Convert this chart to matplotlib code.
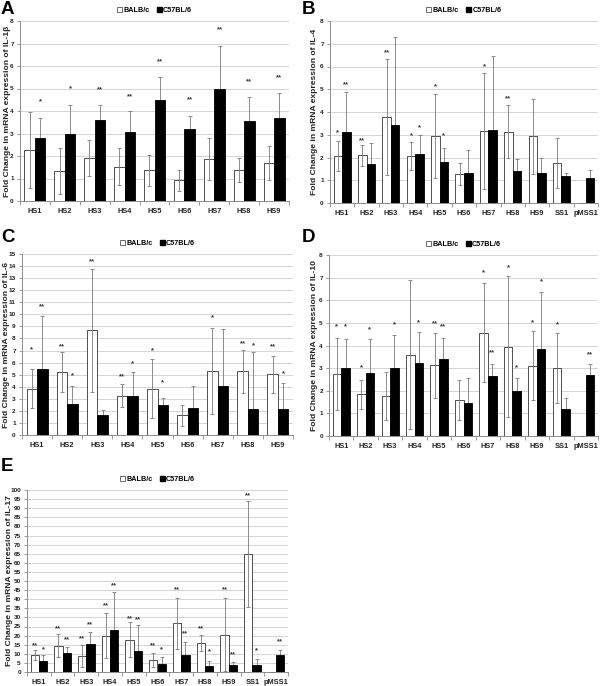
import matplotlib
matplotlib.use("Agg")
import matplotlib.pyplot as plt
from matplotlib.patches import Patch
import numpy as np

plt.rcParams['font.family'] = ['Liberation Sans', 'DejaVu Sans']
plt.rcParams['font.weight'] = 'bold'

cats9 = ["HS1", "HS2", "HS3", "HS4", "HS5", "HS6", "HS7", "HS8", "HS9"]
cats11 = cats9 + ["SS1", "pMSS1"]

# Panel A: IL-1β
a_balb = [2.27, 1.33, 1.92, 1.53, 1.37, 0.93, 1.87, 1.38, 1.68]
a_balb_err = [1.68, 1.03, 0.80, 0.83, 0.69, 0.47, 0.93, 0.52, 0.75]
a_c57 = [2.78, 3.00, 3.60, 3.08, 4.50, 3.20, 5.00, 3.55, 3.68]
a_c57_err = [0.90, 1.27, 0.67, 0.92, 1.00, 0.58, 1.88, 1.07, 1.12]
a_balb_sig = ["", "", "", "", "", "", "", "", ""]
a_balb_sig_y = [0] * 9
a_c57_sig = ["*", "*", "**", "**", "**", "**", "**", "**", "**"]
a_c57_sig_y = [4.4, 5.0, 4.95, 4.65, 6.2, 4.5, 7.6, 5.3, 5.5]

# Panel B: IL-4
b_balb = [2.05, 2.10, 3.77, 2.07, 2.95, 1.28, 3.15, 3.13, 2.93, 1.75, 0.0]
b_balb_err = [0.66, 0.46, 2.55, 0.60, 1.83, 0.47, 2.55, 1.17, 1.64, 1.10, 0.0]
b_c57 = [3.10, 1.72, 3.43, 2.15, 1.80, 1.33, 3.23, 1.42, 1.30, 1.17, 1.12]
b_c57_err = [1.80, 0.91, 3.85, 0.85, 0.62, 0.99, 3.22, 0.51, 0.67, 0.13, 0.31]
b_balb_sig = ["*", "**", "**", "*", "*", "", "*", "**", "", "", ""]
b_balb_sig_y = [3.1, 2.75, 6.6, 2.95, 5.1, 0, 6.0, 4.6, 0, 0, 0]
b_c57_sig = ["**", "", "", "*", "*", "", "", "", "", "", ""]
b_c57_sig_y = [5.2, 0, 0, 3.3, 2.95, 0, 0, 0, 0, 0, 0]

# Panel C: IL-6
c_balb = [3.85, 5.20, 8.68, 3.27, 3.85, 1.62, 5.33, 5.27, 5.02]
c_balb_err = [1.63, 1.64, 5.10, 0.92, 2.43, 0.88, 3.55, 1.75, 1.55]
c_c57 = [5.45, 2.60, 1.62, 3.27, 2.45, 2.20, 4.10, 2.15, 2.15]
c_c57_err = [4.40, 1.43, 0.46, 1.93, 0.65, 1.90, 4.67, 4.70, 2.12]
c_balb_sig = ["*", "**", "**", "**", "*", "", "*", "**", "**"]
c_balb_sig_y = [7.1, 7.3, 14.4, 4.8, 7.0, 0, 9.7, 7.6, 7.3]
c_c57_sig = ["**", "*", "", "*", "*", "", "", "*", "*"]
c_c57_sig_y = [10.6, 4.9, 0, 5.9, 4.3, 0, 0, 7.4, 5.1]

# Panel D: IL-10
d_balb = [2.73, 1.85, 1.77, 3.60, 3.13, 1.58, 4.57, 3.95, 3.10, 3.00, 0.0]
d_balb_err = [1.60, 0.64, 1.05, 3.30, 1.44, 0.88, 2.20, 3.12, 1.52, 1.54, 0.0]
d_c57 = [3.00, 2.80, 3.00, 3.22, 3.42, 1.47, 2.67, 2.00, 3.83, 1.18, 2.70]
d_c57_err = [1.27, 1.47, 1.45, 1.38, 0.93, 1.11, 0.53, 0.55, 2.55, 0.49, 0.48]
d_balb_sig = ["*", "*", "", "", "**", "", "*", "*", "*", "*", ""]
d_balb_sig_y = [4.85, 3.0, 0, 0, 4.95, 0, 7.2, 7.45, 5.0, 4.9, 0]
d_c57_sig = ["*", "*", "*", "*", "**", "", "**", "*", "*", "", "**"]
d_c57_sig_y = [4.85, 4.7, 4.9, 5.0, 4.85, 0, 3.7, 3.0, 6.8, 0, 3.6]

# Panel E: IL-17
e_balb = [9.5, 14.5, 8.8, 20.0, 17.8, 6.5, 26.7, 15.8, 20.6, 64.7, 0.0]
e_balb_err = [2.8, 6.3, 6.0, 12.3, 9.7, 3.9, 14.0, 4.3, 20.2, 29.2, 0.0]
e_c57 = [6.2, 10.2, 15.5, 22.9, 11.3, 4.6, 9.2, 3.5, 4.0, 3.9, 9.6]
e_c57_err = [3.3, 3.7, 6.5, 21.0, 14.3, 3.7, 7.3, 2.7, 1.5, 3.3, 2.7]
e_balb_sig = ["**", "**", "**", "**", "**", "**", "**", "**", "**", "**", ""]
e_balb_sig_y = [14.5, 23.5, 18.5, 36.5, 29.5, 14.5, 45.0, 24.0, 45.0, 97.0, 0]
e_c57_sig = ["*", "**", "**", "**", "**", "*", "**", "*", "**", "*", "**"]
e_c57_sig_y = [12.0, 17.5, 26.0, 47.5, 28.5, 12.0, 21.0, 11.0, 9.5, 11.5, 16.5]

W, H = 600, 686
fig = plt.figure(figsize=(W / 100, H / 100), dpi=100)

GRID = "#d4d4d4"
SPINE = "#8c8c8c"
ERRC = "#7a7a7a"
TXT = "#222222"


def make_axes(l, t, r, b):
    return fig.add_axes([l / W, 1 - b / H, (r - l) / W, (b - t) / H])


def panel(box, letter, letter_xy, cats, balb, balb_err, c57, c57_err,
          bsig, bsig_y, csig, csig_y, ymax, ystep, ylabel, label_x):
    ax = make_axes(*box)
    n = len(cats)
    x = np.arange(n)
    bw = 0.35
    ax.bar(x - bw / 2, balb, bw, color="white", edgecolor="#333333",
           linewidth=0.6, zorder=2)
    ax.errorbar(x - bw / 2, balb, yerr=balb_err, fmt="none", ecolor=ERRC,
                elinewidth=0.6, capsize=1.6, capthick=0.6, zorder=3)
    ax.errorbar(x + bw / 2, c57, yerr=c57_err, fmt="none", ecolor=ERRC,
                elinewidth=0.6, capsize=1.6, capthick=0.6, zorder=3)
    ax.bar(x + bw / 2, c57, bw, color="black", edgecolor="black",
           linewidth=0.6, zorder=4)
    for i in range(n):
        if bsig[i]:
            ax.text(x[i] - bw / 2, bsig_y[i], bsig[i], ha="center", va="center",
                    fontsize=5.5, color="#333333", fontweight="bold", zorder=5)
        if csig[i]:
            ax.text(x[i] + bw / 2, csig_y[i], csig[i], ha="center", va="center",
                    fontsize=5.5, color="#333333", fontweight="bold", zorder=5)
    ax.set_xlim(-0.5, n - 0.5)
    ax.set_ylim(0, ymax)
    ticks = np.arange(0, ymax + ystep / 2, ystep)
    ax.set_yticks(ticks)
    ax.set_yticklabels([f"{v:g}" for v in ticks],
                       fontsize=4.6, fontweight="bold", color=TXT)
    ax.yaxis.grid(True, color=GRID, linewidth=0.7, zorder=0)
    ax.set_axisbelow(True)
    ax.set_xticks(x)
    ax.set_xticklabels(cats, fontsize=5.3, fontweight="bold", color=TXT)
    ax.set_xticks(np.arange(-0.5, n, 1.0), minor=True)
    ax.tick_params(axis="x", which="major", length=0, pad=5)
    ax.tick_params(axis="x", which="minor", length=3, width=0.6, color=SPINE,
                   direction="out")
    ax.tick_params(axis="y", length=2.5, width=0.6, color=SPINE, pad=2)
    for s in ["top", "right"]:
        ax.spines[s].set_visible(False)
    for s in ["left", "bottom"]:
        ax.spines[s].set_color(SPINE)
        ax.spines[s].set_linewidth(0.7)
    l, t, r, b = box
    fig.text(label_x / W, 1 - ((t + b) / 2) / H, ylabel, rotation=90,
             ha="center", va="center", fontsize=6.1, fontweight="bold",
             color=TXT)
    handles = [Patch(facecolor="white", edgecolor="#555555", linewidth=0.6),
               Patch(facecolor="black", edgecolor="black")]
    ax.legend(handles, ["BALB/c", "C57BL/6"], loc="lower center",
              bbox_to_anchor=(0.5, 1.0), ncol=2, frameon=False,
              prop={"size": 5.2, "weight": "bold"}, handlelength=0.7,
              handleheight=0.7, handletextpad=0.2, columnspacing=1.0,
              borderaxespad=0.6)
    fig.text(letter_xy[0] / W, 1 - letter_xy[1] / H, letter, fontsize=13.5,
             fontweight="bold", ha="left", va="top")
    return ax


panel((20, 21, 289, 201), "A", (1, 1), cats9, a_balb, a_balb_err, a_c57,
      a_c57_err, a_balb_sig, a_balb_sig_y, a_c57_sig, a_c57_sig_y, 8, 1,
      "Fold Change in mRNA expression of IL-1β", 7.5)
panel((330, 21, 598, 203), "B", (302, 1), cats11, b_balb, b_balb_err, b_c57,
      b_c57_err, b_balb_sig, b_balb_sig_y, b_c57_sig, b_c57_sig_y, 8, 1,
      "Fold Change in mRNA expression of IL-4", 315)
panel((22, 254, 293, 435), "C", (1, 229), cats9, c_balb, c_balb_err, c_c57,
      c_c57_err, c_balb_sig, c_balb_sig_y, c_c57_sig, c_c57_sig_y, 15, 1,
      "Fold Change in mRNA expression of IL-6", 6.5)
panel((329, 255, 598, 436), "D", (302, 229), cats11, d_balb, d_balb_err, d_c57,
      d_c57_err, d_balb_sig, d_balb_sig_y, d_c57_sig, d_c57_sig_y, 8, 1,
      "Fold Change in mRNA expression of IL-10", 315)
panel((27, 490, 288, 672), "E", (1, 458), cats11, e_balb, e_balb_err, e_c57,
      e_c57_err, e_balb_sig, e_balb_sig_y, e_c57_sig, e_c57_sig_y, 100, 5,
      "Fold Change in mRNA expression of IL-17", 9.5)

fig.savefig("out.png", dpi=100)
